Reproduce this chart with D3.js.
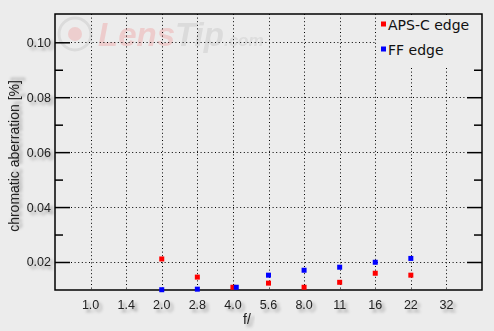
<!DOCTYPE html>
<html><head><meta charset="utf-8">
<script src="https://cdn.jsdelivr.net/npm/d3@7"></script>
<style>
html,body{margin:0;padding:0;background:#ececec;}
svg{display:block;}
</style></head>
<body>
<svg id="chart" width="494" height="331"></svg>
<script>
// ---- data ----
const apertureLabels = ["1.0","1.4","2.0","2.8","4.0","5.6","8.0","11","16","22","32"];
const apertureValues = [1.0, 1.4, 2.0, 2.8, 4.0, 5.6, 8.0, 11, 16, 22, 32];
const yTickValues = [0.02, 0.04, 0.06, 0.08, 0.10];
const yTickLabels = ["0.02","0.04","0.06","0.08","0.10"];
const apscStops = [2.0, 2.8, 4.0, 5.6, 8.0, 11, 16, 22];
const apscValues = [0.0211, 0.0145, 0.0108, 0.0123, 0.0108, 0.0126, 0.0159, 0.0152];
const ffStops = [2.0, 2.8, 4.15, 5.6, 8.0, 11, 16, 22];
const ffValues = [0.0099, 0.0101, 0.0108, 0.0152, 0.0170, 0.0181, 0.0199, 0.0213];
const seriesNames = ["APS-C edge", "FF edge"];
const seriesColors = ["#ff0000", "#0000ff"];

// ---- layout ----
const W = 494, H = 331;
const L = 55, R = 482, T = 14, B = 290;
const bg = "#ececec";
const svg = d3.select("#chart");
svg.append("rect").attr("width", W).attr("height", H).attr("fill", bg);

const defs = svg.append("defs");
const f = defs.append("filter").attr("id","shadow").attr("x","-20%").attr("y","-40%").attr("width","160%").attr("height","200%");
f.append("feDropShadow").attr("dx",3).attr("dy",3).attr("stdDeviation",1.6)
  .attr("flood-color","#000").attr("flood-opacity",0.35);

const step = (R - L) / (apertureValues.length + 1);
const x = d3.scaleLinear()
  .domain(apertureValues)
  .range(apertureValues.map((_, i) => L + (i + 1) * step));
const y = d3.scaleLinear().domain([0.0098, 0.1103]).range([B, T]);

// watermark
const wm = svg.append("g").attr("opacity", 0.75);
wm.append("circle").attr("cx", 75).attr("cy", 34).attr("r", 16)
  .attr("fill", "none").attr("stroke", "#d6d6d6").attr("stroke-width", 3);
wm.append("circle").attr("cx", 75).attr("cy", 34).attr("r", 7).attr("fill", "#eec4c4");
const wt = wm.append("text").attr("x", 98).attr("y", 46)
  .attr("font-family", "Liberation Sans, Arial, sans-serif")
  .attr("font-style", "italic").attr("font-weight", "bold").attr("font-size", 33);
wt.append("tspan").attr("fill", "#eec2c2").text("Lens");
wt.append("tspan").attr("fill", "#d6d6d6").text("Tip");
wt.append("tspan").attr("fill", "#d8d8d8").attr("font-size", 17).text(".com");

// gridlines
const grid = svg.append("g").attr("stroke", "#000").attr("stroke-width", 1)
  .attr("stroke-dasharray", "1,2.6");
grid.selectAll("line.v").data(apertureValues).join("line")
  .attr("x1", d => Math.round(x(d)) + 0.5).attr("x2", d => Math.round(x(d)) + 0.5)
  .attr("y1", T).attr("y2", B);
grid.selectAll("line.h").data(yTickValues).join("line")
  .attr("x1", L + 16).attr("x2", R - 16)
  .attr("y1", d => Math.round(y(d)) + 0.5).attr("y2", d => Math.round(y(d)) + 0.5);

// y axes (ticks inside)
const minorTicks = d3.range(0.03, 0.11, 0.02);
const yl = d3.axisRight(y).tickValues(yTickValues).tickSize(15).tickFormat("");
const ylm = d3.axisRight(y).tickValues(minorTicks).tickSize(8).tickFormat("");
const yr = d3.axisLeft(y).tickValues(yTickValues).tickSize(15).tickFormat("");
const yrm = d3.axisLeft(y).tickValues(minorTicks).tickSize(8).tickFormat("");
[[yl, L], [ylm, L], [yr, R], [yrm, R]].forEach(([ax, px]) => {
  const g = svg.append("g").attr("transform", `translate(${px},0)`).call(ax);
  g.select(".domain").remove();
  g.selectAll("line").attr("stroke", "#000").attr("stroke-width", 1.5);
});

// legend background box (covers grid)
svg.append("rect").attr("x", 377).attr("y", T + 1).attr("width", R - 377).attr("height", 51).attr("fill", bg);

// frame
svg.append("rect").attr("x", L).attr("y", T).attr("width", R - L).attr("height", B - T)
  .attr("fill", "none").attr("stroke", "#000").attr("stroke-width", 1.5);

// markers
const series = [
  {stops: apscStops, values: apscValues, color: seriesColors[0]},
  {stops: ffStops, values: ffValues, color: seriesColors[1]}
];
series.forEach(s => {
  svg.append("g").selectAll("rect").data(s.values).join("rect")
    .attr("x", (d, i) => x(s.stops[i]) - 2.5).attr("y", d => y(d) - 2.5)
    .attr("width", 5).attr("height", 5).attr("fill", s.color);
});

// tick labels
const lblFont = "Liberation Sans, Arial, sans-serif";
svg.append("g").selectAll("text").data(yTickValues).join("text")
  .attr("x", 51).attr("y", d => y(d) + 4.5).attr("text-anchor", "end")
  .attr("font-family", lblFont).attr("font-size", 12.5).attr("fill", "#222")
  .attr("filter", "url(#shadow)")
  .text((d, i) => yTickLabels[i]);
svg.append("g").selectAll("text").data(apertureValues).join("text")
  .attr("x", d => x(d)).attr("y", 309).attr("text-anchor", "middle")
  .attr("font-family", lblFont).attr("font-size", 12.5).attr("fill", "#222")
  .attr("filter", "url(#shadow)")
  .text((d, i) => apertureLabels[i]);

// axis titles
svg.append("text").attr("x", 243).attr("y", 324)
  .attr("font-family", lblFont).attr("font-size", 14).attr("fill", "#222")
  .attr("filter", "url(#shadow)").text("f/");
svg.append("text").attr("transform", "translate(19,156) rotate(-90)")
  .attr("text-anchor", "middle")
  .attr("font-family", lblFont).attr("font-size", 14).attr("fill", "#222")
  .attr("filter", "url(#shadow)").text("chromatic aberration [%]");

// legend
const leg = svg.append("g");
seriesNames.forEach((name, i) => {
  const cy = 24 + i * 25;
  leg.append("rect").attr("x", 381).attr("y", cy - 2.5).attr("width", 5).attr("height", 5)
    .attr("fill", seriesColors[i]);
  leg.append("text").attr("x", 388).attr("y", cy + 5.5)
    .attr("font-family", "DejaVu Sans, sans-serif").attr("font-size", 14).attr("fill", "#111")
    .text(name);
});
</script>
</body></html>
